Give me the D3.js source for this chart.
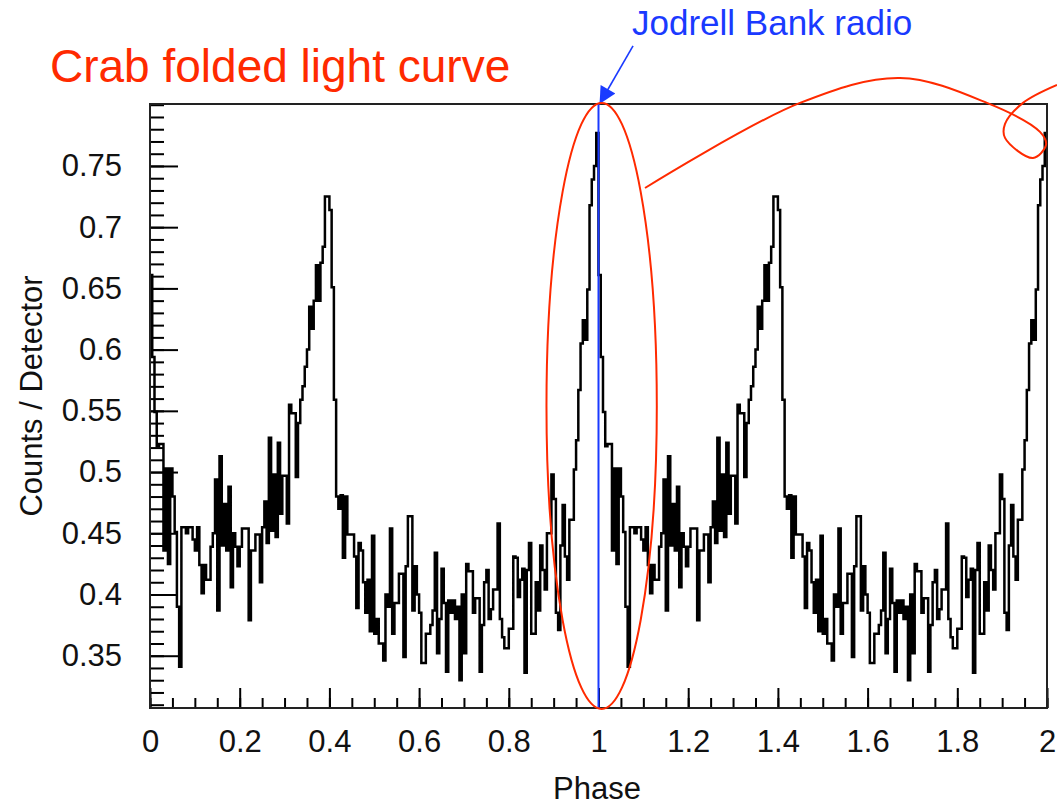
<!DOCTYPE html>
<html lang="en">
<head>
<meta charset="UTF-8">
<title>Crab folded light curve</title>
<script src="https://cdn.jsdelivr.net/npm/d3@7"></script>
<style>
  body{margin:0;background:#fff;}
  svg{font-family:"Liberation Sans",Arial,Helvetica,sans-serif;}
</style>
</head>
<body>
<script>
// counts / detector in 200 phase bins of one period (folded), drawn for two cycles
const counts = [
  0.661,0.594,0.549,0.521,0.523,0.523,0.436,0.503,0.425,0.503,
  0.480,0.451,0.390,0.341,0.455,0.455,0.450,0.455,0.455,0.445,
  0.436,0.455,0.424,0.401,0.424,0.412,0.412,0.439,0.450,0.494,
  0.387,0.513,0.440,0.474,0.436,0.488,0.406,0.450,0.439,0.423,
  0.439,0.454,0.454,0.454,0.379,0.436,0.436,0.449,0.449,0.410,
  0.455,0.476,0.442,0.528,0.452,0.498,0.447,0.524,0.466,0.497,
  0.497,0.458,0.555,0.548,0.548,0.496,0.540,0.559,0.570,0.586,
  0.600,0.635,0.617,0.640,0.669,0.640,0.671,0.684,0.725,0.725,
  0.714,0.651,0.559,0.480,0.470,0.481,0.430,0.480,0.449,0.449,
  0.449,0.431,0.389,0.442,0.436,0.410,0.385,0.412,0.370,0.448,
  0.368,0.380,0.360,0.360,0.346,0.400,0.390,0.454,0.368,0.393,
  0.393,0.417,0.417,0.349,0.423,0.464,0.464,0.387,0.423,0.400,
  0.385,0.344,0.344,0.368,0.368,0.375,0.387,0.434,0.352,0.380,
  0.421,0.393,0.337,0.395,0.385,0.395,0.380,0.390,0.330,0.400,
  0.352,0.425,0.419,0.419,0.385,0.397,0.397,0.337,0.375,0.410,
  0.420,0.380,0.388,0.404,0.404,0.458,0.380,0.365,0.356,0.356,
  0.372,0.372,0.431,0.430,0.398,0.412,0.421,0.336,0.420,0.442,
  0.368,0.368,0.410,0.387,0.440,0.420,0.404,0.450,0.450,0.498,
  0.478,0.385,0.371,0.440,0.473,0.431,0.412,0.461,0.461,0.502,
  0.526,0.567,0.605,0.624,0.608,0.649,0.718,0.739,0.750,0.777
];
const cycles = [0, 1];
const xMajor = [0,0.2,0.4,0.6,0.8,1,1.2,1.4,1.6,1.8,2];
const yMajor = [0.35,0.4,0.45,0.5,0.55,0.6,0.65,0.7,0.75];
const radioPhase = 1;

// annotation strokes, in (phase, counts) units
const arrowFrom = {p:1.077, v:0.848};
const ellipseC = {p:1.007, v:0.554, rp:0.123, rv:0.2475};
const scribble = [
  [1.1037,0.7320],[1.4493,0.8015],[1.6722,0.8219],[1.8662,0.8015],
  [1.9844,0.7778],[1.9978,0.7672],[1.9688,0.7565],[1.9064,0.7729],
  [1.9064,0.7843],[1.9465,0.8015],[2.0223,0.8162]
];

const W = 1057, H = 805;
const frame = {left:150, right:1047, top:104, bottom:708};
const red = "#ff2a00", blue = "#1a3aff";

const svg = d3.select("body").append("svg")
    .attr("width", W).attr("height", H)
    .attr("viewBox", [0,0,W,H]);

const x = d3.scaleLinear().domain([0,2]).range([frame.left, frame.right]);
const y = d3.scaleLinear().domain([0.3073,0.8006]).range([frame.bottom, frame.top]);

// minor ticks
const xMinor = d3.range(0, 2.0001, 0.05).map(d=>+d.toFixed(2));
const yMinor = d3.range(0.31, 0.8001, 0.01).map(d=>+d.toFixed(2));

const gx = svg.append("g").attr("transform",`translate(0,${frame.bottom})`);
gx.append("g").call(d3.axisBottom(x).tickValues(xMinor).tickSize(-10).tickFormat(""));
gx.append("g").call(d3.axisBottom(x).tickValues(xMajor).tickSize(-20).tickPadding(22)
    .tickFormat(d=>String(+d.toFixed(1))));

const gy = svg.append("g").attr("transform",`translate(${frame.left},0)`);
gy.append("g").call(d3.axisLeft(y).tickValues(yMinor).tickSize(-14).tickFormat(""));
gy.append("g").call(d3.axisLeft(y).tickValues(yMajor).tickSize(-28).tickPadding(28)
    .tickFormat(d=>String(+d.toFixed(2))));

svg.selectAll(".domain").remove();
svg.selectAll(".tick line").attr("stroke","#000").attr("stroke-width",2);
svg.selectAll(".tick text").attr("font-size",31).attr("fill","#111")
    .attr("font-family","'Liberation Sans',Arial,Helvetica,sans-serif");

// histogram
const pts = cycles.flatMap(c => counts.map((v,i)=>({p:c+i/counts.length, v})));
pts.push({p:cycles.length, v:counts[counts.length-1]});
const step = d3.line().x(d=>x(d.p)).y(d=>y(d.v)).curve(d3.curveStepAfter);
svg.append("path").attr("d", step(pts))
    .attr("fill","none").attr("stroke","#000").attr("stroke-width",2.5);

// frame
svg.append("rect")
    .attr("x",frame.left).attr("y",frame.top)
    .attr("width",frame.right-frame.left).attr("height",frame.bottom-frame.top)
    .attr("fill","none").attr("stroke","#222").attr("stroke-width",2);

// axis titles
svg.append("text").attr("x",597).attr("y",799).attr("text-anchor","middle")
    .attr("font-size",31).attr("fill","#111").text("Phase");
svg.append("text").attr("transform","translate(42,396) rotate(-90)")
    .attr("text-anchor","middle").attr("font-size",31).attr("fill","#111")
    .text("Counts / Detector");

// radio phase marker
svg.append("line")
    .attr("x1",x(radioPhase)).attr("x2",x(radioPhase))
    .attr("y1",y.range()[0]).attr("y2",y.range()[1])
    .attr("stroke",blue).attr("stroke-width",2);

svg.append("defs").append("marker")
    .attr("id","head").attr("viewBox","0 0 10 10")
    .attr("refX",10).attr("refY",5)
    .attr("markerWidth",22).attr("markerHeight",17)
    .attr("markerUnits","userSpaceOnUse")
    .attr("orient","auto")
  .append("path").attr("d","M0,0L10,5L0,10z").attr("fill",blue);

svg.append("line")
    .attr("x1",x(arrowFrom.p)).attr("y1",y(arrowFrom.v))
    .attr("x2",x(radioPhase)+1).attr("y2",y.range()[1])
    .attr("stroke",blue).attr("stroke-width",1.6)
    .attr("marker-end","url(#head)");

svg.append("text").attr("x",632).attr("y",35)
    .attr("font-size",35).attr("fill",blue).text("Jodrell Bank radio");

// red annotations
svg.append("ellipse")
    .attr("cx",x(ellipseC.p)).attr("cy",y(ellipseC.v))
    .attr("rx",x(ellipseC.rp)-x(0)).attr("ry",y(0)-y(ellipseC.rv))
    .attr("fill","none").attr("stroke",red).attr("stroke-width",2);

svg.append("path")
    .attr("d", d3.line().x(d=>x(d[0])).y(d=>y(d[1])).curve(d3.curveCatmullRom)(scribble))
    .attr("fill","none").attr("stroke",red).attr("stroke-width",2);

svg.append("text").attr("x",50).attr("y",82)
    .attr("font-size",46).attr("fill",red).text("Crab folded light curve");
</script>
</body>
</html>
